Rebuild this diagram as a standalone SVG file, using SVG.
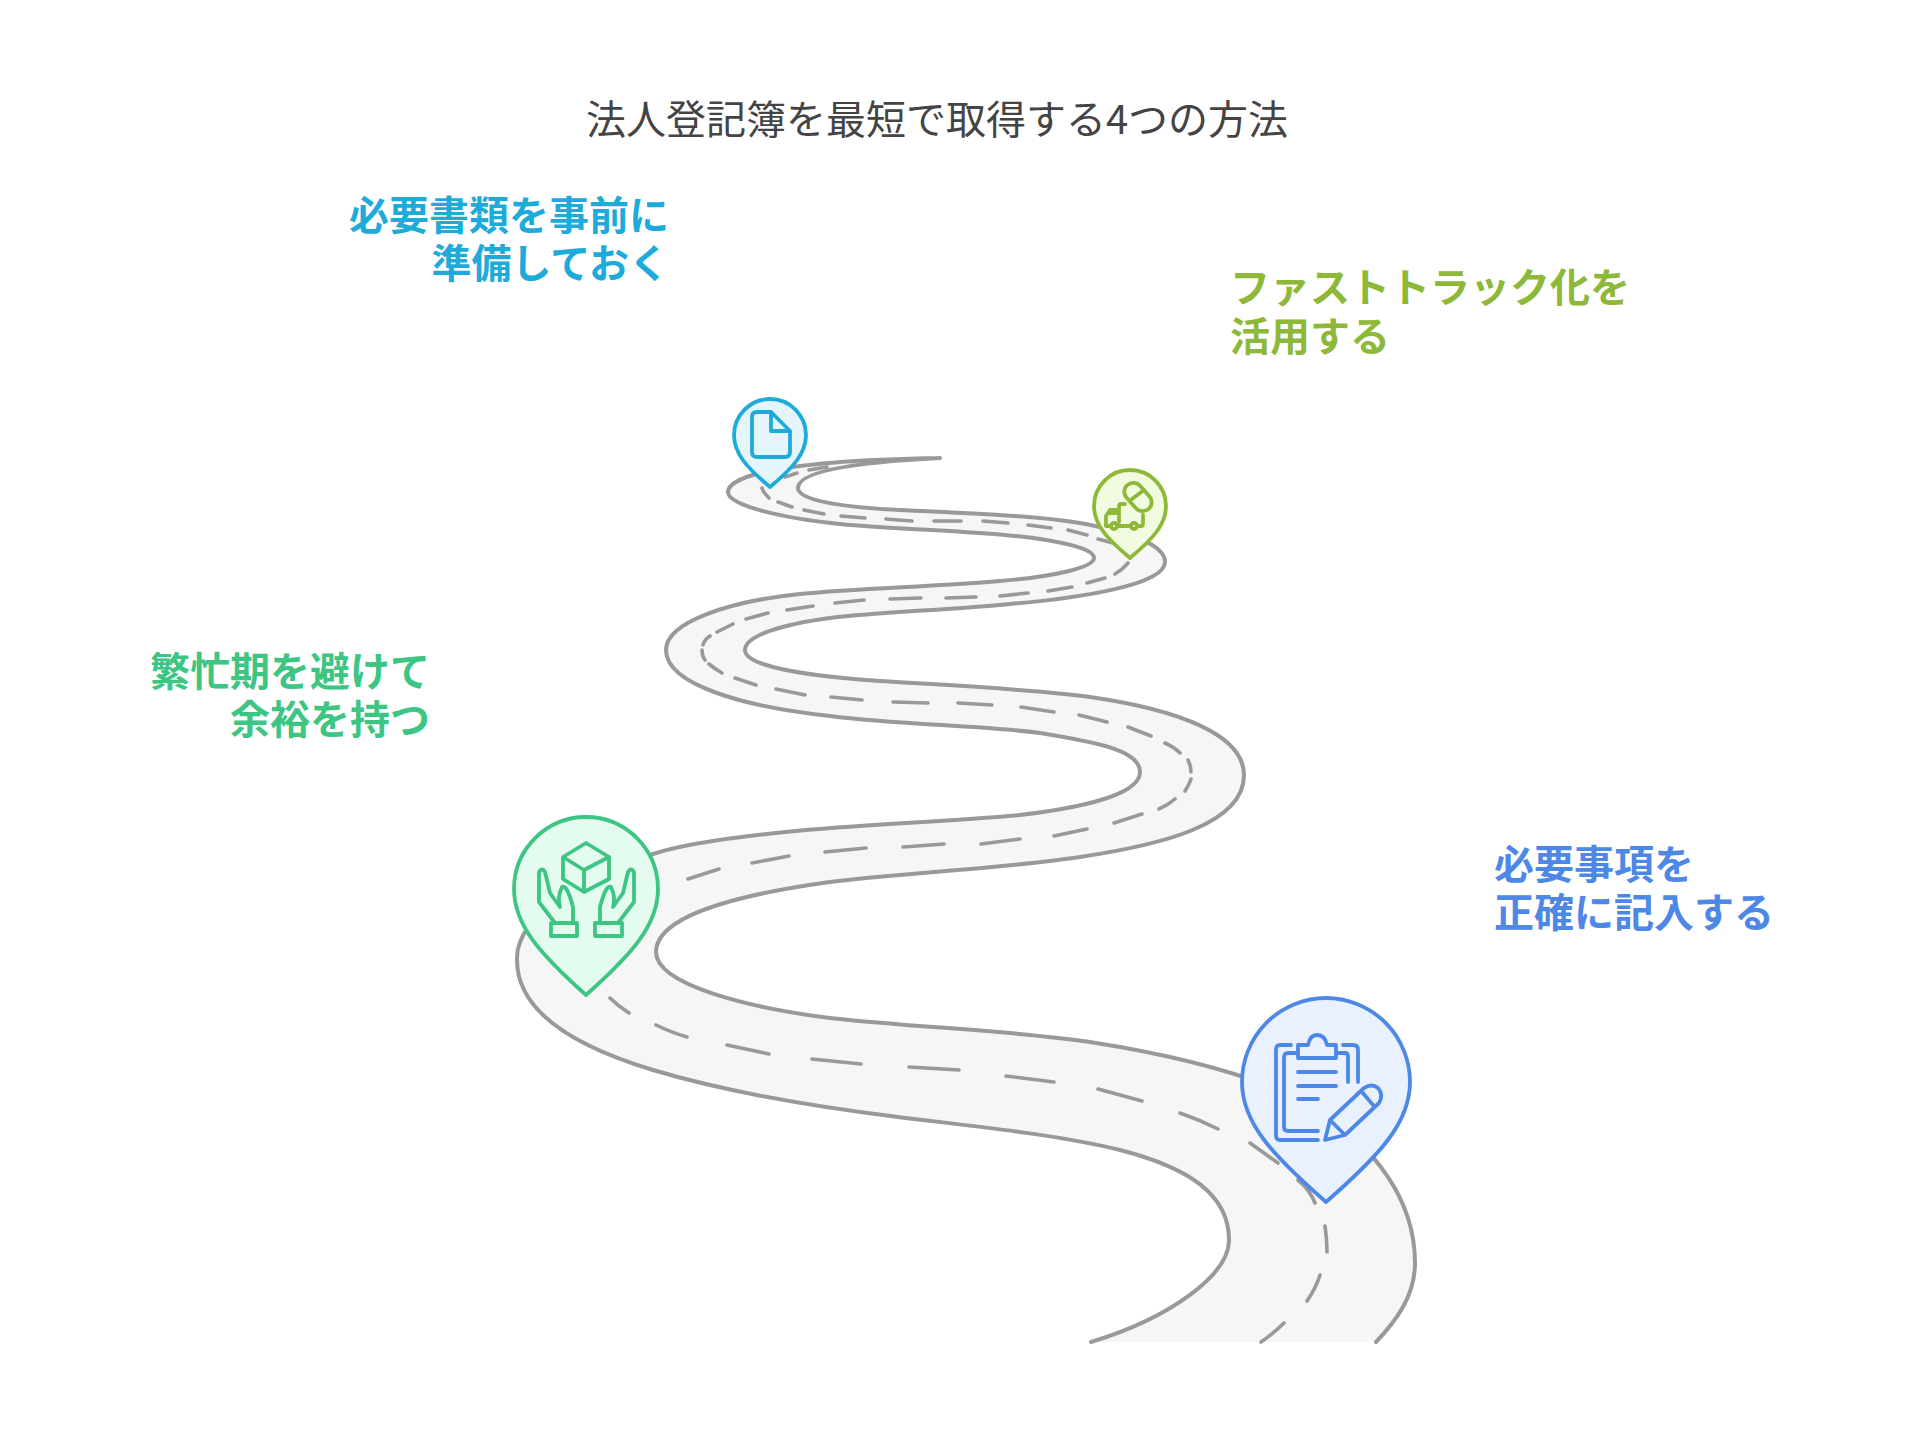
<svg xmlns="http://www.w3.org/2000/svg" width="1924" height="1441" viewBox="0 0 1924 1441">
<style>
text{font-family:"Noto Sans CJK JP","Noto Sans",sans-serif;font-size:40px}
.title{fill:#444;text-anchor:middle}
.lab{font-weight:700}
.end{text-anchor:end}
.road{fill:#f6f6f6;stroke:none}
.edge{fill:none;stroke:#999;stroke-width:4;stroke-linecap:round;stroke-linejoin:round}
.dash{fill:none;stroke:#999;stroke-width:3.6;stroke-linecap:round}
.ic{stroke-width:3.8;stroke-linecap:round;stroke-linejoin:round}
.ic .o{fill:none}
.sky{stroke:#1eabda}.sky .p{fill:#e4f5fc}
.lime{stroke:#8eb838}.lime .p{fill:#f0fbdf}
.mint{stroke:#3cc583}.mint .p{fill:#e4fbf0}
.blue{stroke:#4e88e7}.blue .p{fill:#e9f1fe}
</style>
<rect width="1924" height="1441" fill="#fff"/>
<text class="title" x="937" y="134">法人登記簿を最短で取得する4つの方法</text>
<g id="connectors">
<path class="road" d="M940,458 C880,459 800,463 760,473 C740,478 728,485 728,492 C728,505 780,518 840,524 C900,530 990,531 1040,539 C1072,544 1094,550 1094,558 C1094,568 1050,577 1000,581 C930,587 860,588 800,594 C730,601 666,622 666,650 C666,685 745,707 830,716 C900,725 980,725 1040,733 C1095,742 1140,750 1140,772 C1140,795 1080,808 1020,815 C950,821 880,824 806,830 C730,837 680,845 653,854 C590,872 515,915 517,960 C517,1010 570,1045 653,1070 C720,1090 800,1105 898,1117 C980,1127 1060,1135 1120,1150 C1190,1168 1229,1195 1229,1240 C1229,1275 1170,1318 1091,1342 L1376,1342 C1397,1320 1415,1295 1415,1263 C1415,1200 1375,1145 1310,1105 C1250,1072 1160,1053 1090,1042 C1010,1030 920,1028 830,1018 C750,1008 656,985 656,952 C656,920 720,897 830,882 C900,873 1000,869 1080,857 C1160,845 1244,825 1244,775 C1244,735 1180,710 1090,697 C1030,689 960,686 880,681 C820,677 745,668 745,650 C745,635 785,624 830,618 C880,612 950,610 1010,604 C1080,598 1165,585 1165,562 C1165,545 1130,532 1080,523 C1030,515 960,513 900,510 C860,508 798,503 798,488 C798,468 880,461 940,458 Z"/>
<path class="edge" d="M940,458 C880,459 800,463 760,473 C740,478 728,485 728,492 C728,505 780,518 840,524 C900,530 990,531 1040,539 C1072,544 1094,550 1094,558 C1094,568 1050,577 1000,581 C930,587 860,588 800,594 C730,601 666,622 666,650 C666,685 745,707 830,716 C900,725 980,725 1040,733 C1095,742 1140,750 1140,772 C1140,795 1080,808 1020,815 C950,821 880,824 806,830 C730,837 680,845 653,854 C590,872 515,915 517,960 C517,1010 570,1045 653,1070 C720,1090 800,1105 898,1117 C980,1127 1060,1135 1120,1150 C1190,1168 1229,1195 1229,1240 C1229,1275 1170,1318 1091,1342 M1376,1342 C1397,1320 1415,1295 1415,1263 C1415,1200 1375,1145 1310,1105 C1250,1072 1160,1053 1090,1042 C1010,1030 920,1028 830,1018 C750,1008 656,985 656,952 C656,920 720,897 830,882 C900,873 1000,869 1080,857 C1160,845 1244,825 1244,775 C1244,735 1180,710 1090,697 C1030,689 960,686 880,681 C820,677 745,668 745,650 C745,635 785,624 830,618 C880,612 950,610 1010,604 C1080,598 1165,585 1165,562 C1165,545 1130,532 1080,523 C1030,515 960,513 900,510 C860,508 798,503 798,488 C798,468 880,461 940,458"/>
<path class="dash" d="M827,467L809,470M797,473L785,477M762,488Q763,492 769,498M778,502L792,507M804,510L824,514M841,516L865,518M886,519L912,521M934,521L961,521M983,521L1008,523M1028,525L1051,528M1068,530L1087,535M1098,539L1113,543M1128,563Q1122,570 1115,574M1105,578L1087,583M1072,587L1048,591M1028,593L1000,596M976,597L946,598M921,598L890,599M864,600L835,603M813,606L787,610M768,613L746,619M733,624L717,632M710,636Q704,640 703,645M702,650Q702,656 705,660M709,664Q715,669 722,673M735,678L756,685M776,689L805,695M831,697L862,700M893,702L928,703M958,703L992,705M1021,707L1054,712M1079,715L1107,722M1128,727L1151,736M1165,743Q1174,747 1180,753M1188,760Q1191,766 1191,772M1191,779Q1189,785 1185,791M1175,799Q1168,805 1159,809M1142,814L1114,823M1087,829L1054,836M1020,839L981,844M944,844L903,847M866,848L825,852M789,856L752,863M719,869L688,879M610,998Q618,1006 629,1013M656,1025Q670,1032 687,1037M727,1045L769,1054M812,1059L861,1064M909,1067L959,1070M1006,1076L1054,1082M1098,1089L1142,1101M1180,1113Q1200,1120 1218,1129M1250,1143L1278,1163M1298,1180Q1310,1190 1315,1203M1325,1226Q1327,1240 1327,1252M1320,1275Q1316,1288 1307,1301M1284,1323Q1274,1333 1261,1342"/>
</g>
<g id="node-sky" class="ic sky">
<path class="p" transform="translate(770,435)" d="M0,52 C-24,32 -36,18 -36,0 A36,36 0 0 1 36,0 C36,18 24,32 0,52Z"/>
<path class="o" d="M771,412 H757 Q752,412 752,417 V452 Q752,457 757,457 H785 Q790,457 790,452 V431 L771,412 V431 H790"/>
</g>
<g id="node-lime" class="ic lime">
<path class="p" transform="translate(1130,506)" d="M0,52 C-24,32 -36,18 -36,0 A36,36 0 0 1 36,0 C36,18 24,32 0,52Z"/>
<g class="o">
<rect class="o" x="1122" y="488" width="32" height="18" rx="9" transform="rotate(48 1138 497)"/>
<path class="o" d="M1132,499L1144,490M1125,504H1121Q1119,504 1119,507V522M1110,513H1119M1109,526H1106V516L1110,510H1119M1118,526H1130M1138,526H1142Q1143,526 1143,522V515"/>
<circle class="o" cx="1114" cy="526" r="3"/>
<circle class="o" cx="1134" cy="526" r="3"/>
</g>
</g>
<g id="node-mint" class="ic mint">
<path class="p" transform="translate(586,889)" d="M0,106 C-46,65 -72,36 -72,0 A72,72 0 0 1 72,0 C72,36 46,65 0,106Z"/>
<path class="o" d="M586,843 L609,857 V879 L584,892 L563,879 V857 Z M563,857 L584,870 L609,857 M584,870 V892"/>
<path class="o" d="M555,923 L539,902 V872 Q542,867 545,872 L550,893 L560,907 Q557,897 562,887 Q567,884 573,907 V923"/>
<path class="o" d="M618,923 L634,902 V872 Q631,867 628,872 L623,893 L613,907 Q616,897 611,887 Q606,884 600,907 V923"/>
<rect class="o" x="551" y="923" width="26" height="13"/>
<rect class="o" x="595" y="923" width="27" height="13"/>
</g>
<g id="node-blue" class="ic blue">
<path class="p" transform="translate(1326,1082)" d="M0,120 C-55,72 -84,40 -84,0 A84,84 0 0 1 84,0 C84,40 55,72 0,120Z"/>
<path class="o" d="M1291,1045 H1280 Q1276,1045 1276,1050 V1135 Q1276,1140 1280,1140 H1318 M1343,1045 H1353 Q1358,1045 1358,1050 V1082 M1297,1053 H1288 Q1284,1053 1284,1058 V1127 Q1284,1131 1288,1131 H1318 M1337,1053 H1345 Q1348,1053 1348,1057 V1082 M1298,1058 V1045 H1308 Q1310,1035 1317,1035 Q1325,1035 1327,1045 H1336 V1058 Z M1298,1072 H1336 M1298,1086 H1336 M1298,1099 H1318"/>
<path class="o" d="M1325,1140 L1330,1120 L1364,1088 Q1372,1083 1378,1088 Q1384,1095 1379,1103 L1345,1135 Z M1362,1092 L1373,1105 M1330,1120 L1345,1135"/>
</g>
<g id="label-sky" fill="#1eabda">
<text class="lab end" x="669" y="230">必要書類を事前に</text>
<text class="lab end" x="669" y="278">準備しておく</text>
</g>
<g id="label-lime" fill="#8eb838">
<text class="lab" x="1230" y="302">ファストトラック化を</text>
<text class="lab" x="1230" y="351">活用する</text>
</g>
<g id="label-mint" fill="#3cc583">
<text class="lab end" x="430" y="686">繁忙期を避けて</text>
<text class="lab end" x="430" y="734">余裕を持つ</text>
</g>
<g id="label-blue" fill="#4e88e7">
<text class="lab" x="1494" y="879">必要事項を</text>
<text class="lab" x="1494" y="927">正確に記入する</text>
</g>
</svg>
